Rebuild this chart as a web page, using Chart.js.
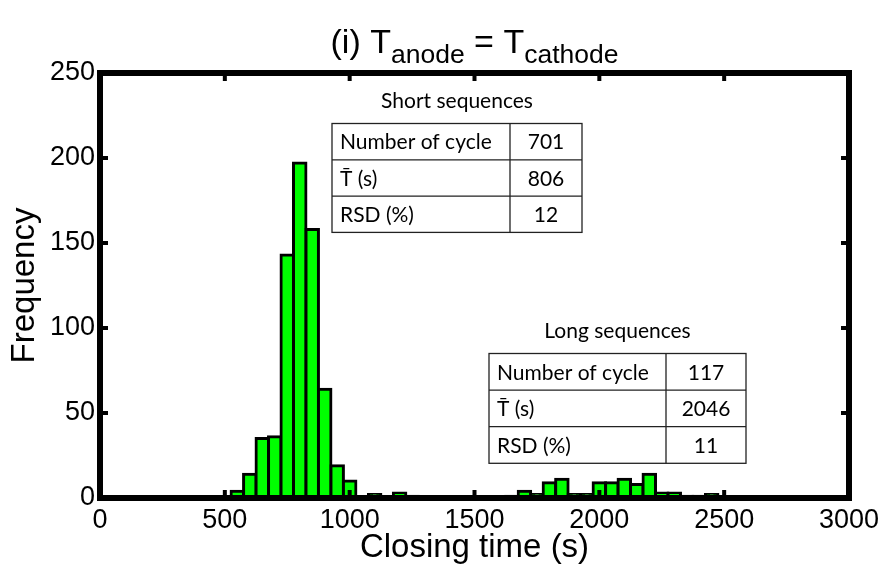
<!DOCTYPE html>
<html><head><meta charset="utf-8">
<script src="https://cdn.jsdelivr.net/npm/chart.js@4.4.0/dist/chart.umd.min.js"></script>
<style>html,body{margin:0;padding:0;background:#fff;}#wrap{width:880px;height:568px;position:relative;}</style>
</head><body><div id="wrap"><canvas id="c"></canvas></div>
<script>
// ---- data ----
const binCenters = [500,550,600,650,700,750,800,850,900,950,1000,1050,1100,1150,1200,1250,1300,1350,1400,1450,1500,1550,1600,1650,1700,1750,1800,1850,1900,1950,2000,2050,2100,2150,2200,2250,2300,2350,2400,2450,2500];
const frequencies = [0,4,14,35,36,143,197,158,64,19,10,0,2,0,3,1,0,0,0,0,0,0,0,1,4,2,9,11,2,2,9,9,11,8,14,3,3,1,1,2,0];
const xTickStep = 500;
const yTickStep = 50;
const titleParts = [["(i) T",false],["anode",true],[" = T",false],["cathode",true]];
const xAxisTitle = "Closing time (s)";
const yAxisTitle = "Frequency";
const shortTitle = "Short sequences";
const shortRows = [["Number of cycle","701"],["T\u0304 (s)","806"],["RSD (%)","12"]];
const longTitle = "Long sequences";
const longRows = [["Number of cycle","117"],["T\u0304 (s)","2046"],["RSD (%)","11"]];

const FONT = "'Liberation Sans', Arial, Helvetica, sans-serif";
const TFONT = "Lato, 'Open Sans', sans-serif";

function drawTable(ctx, title, rows, left, top, width, rowH, colX) {
  ctx.save();
  ctx.fillStyle = '#000';
  ctx.font = "21px " + TFONT;
  ctx.textAlign = 'center';
  ctx.textBaseline = 'middle';
  ctx.fillText(title, left + width/2, top - 22);
  ctx.strokeStyle = '#222';
  ctx.lineWidth = 1.3;
  const h = rowH * rows.length;
  ctx.strokeRect(left, top, width, h);
  ctx.beginPath();
  for (let i = 1; i < rows.length; i++) { ctx.moveTo(left, top + i*rowH); ctx.lineTo(left+width, top + i*rowH); }
  ctx.moveTo(left + colX, top); ctx.lineTo(left + colX, top + h);
  ctx.stroke();
  rows.forEach((r, i) => {
    const cy = top + i*rowH + rowH/2 + 1;
    ctx.textAlign = 'left';
    ctx.fillText(r[0], left + 8, cy);
    ctx.textAlign = 'center';
    ctx.fillText(r[1], left + colX + (width - colX)/2, cy);
  });
  ctx.restore();
}

const deco = {
  id: 'deco',
  afterDatasetsDraw(chart) {
    const {ctx, chartArea: a, scales: {x, y}} = chart;
    ctx.save();
    ctx.strokeStyle = '#000';
    ctx.lineJoin = 'miter';
    ctx.lineWidth = 6;
    ctx.strokeRect(a.left, a.top, a.right - a.left, a.bottom - a.top);
    ctx.lineWidth = 4;
    ctx.beginPath();
    x.ticks.forEach(t => {
      const px = x.getPixelForValue(t.value);
      ctx.moveTo(px, a.top); ctx.lineTo(px, a.top + 8);
      ctx.moveTo(px, a.bottom); ctx.lineTo(px, a.bottom - 8);
    });
    y.ticks.forEach(t => {
      const py = y.getPixelForValue(t.value);
      ctx.moveTo(a.left, py); ctx.lineTo(a.left + 8, py);
      ctx.moveTo(a.right, py); ctx.lineTo(a.right - 8, py);
    });
    ctx.stroke();
    ctx.restore();
  },
  afterDraw(chart) {
    const {ctx, chartArea: a} = chart;
    ctx.save();
    ctx.fillStyle = '#000';
    ctx.textBaseline = 'alphabetic';
    const mainF = "34px " + FONT, subF = "26.5px " + FONT;
    let total = 0;
    titleParts.forEach(p => { ctx.font = p[1] ? subF : mainF; total += ctx.measureText(p[0]).width; });
    let cx = (a.left + a.right)/2 - total/2;
    titleParts.forEach(p => {
      ctx.font = p[1] ? subF : mainF;
      ctx.textAlign = 'left';
      ctx.fillText(p[0], cx, p[1] ? 63 : 53);
      cx += ctx.measureText(p[0]).width;
    });
    ctx.restore();
    drawTable(ctx, shortTitle, shortRows, 332, 123.5, 250, 36.3, 178);
    drawTable(ctx, longTitle, longRows, 489, 353.5, 257, 36.6, 177);
  }
};

new Chart(document.getElementById('c'), {
  type: 'bar',
  data: {
    datasets: [{
      data: binCenters.map((c, i) => ({x: c, y: frequencies[i]})),
      backgroundColor: '#00ff00',
      borderColor: '#000',
      borderWidth: 3,
      borderSkipped: false,
      inflateAmount: 1.5,
      barPercentage: 1,
      categoryPercentage: 1
    }]
  },
  options: {
    responsive: true,
    maintainAspectRatio: false,
    animation: false,
    layout: {padding: {top: 73, right: 31, left: 0, bottom: 0}},
    plugins: {legend: {display: false}, tooltip: {enabled: false}, title: {display: false}},
    scales: {
      x: {
        type: 'linear', min: 0, max: 3000, offset: false,
        grid: {display: false, drawTicks: false, offset: false},
        border: {display: false},
        ticks: {stepSize: xTickStep, color: '#000', font: {family: FONT, size: 27}, padding: 6, maxRotation: 0, autoSkip: false,
                callback: v => String(v)},
        title: {display: true, text: xAxisTitle, color: '#000', font: {family: FONT, size: 33}, padding: {top: 0, bottom: 0}},
        afterFit(s) { s.height = 70; s.paddingLeft = 0; s.paddingRight = 0; }
      },
      y: {
        min: 0, max: 250,
        grid: {display: false, drawTicks: false},
        border: {display: false},
        ticks: {stepSize: yTickStep, color: '#000', font: {family: FONT, size: 27}, padding: 5, callback: v => String(v)},
        title: {display: true, text: yAxisTitle, color: '#000', font: {family: FONT, size: 33}, padding: {top: 5, bottom: 0}},
        afterFit(s) { s.width = 100; s.paddingTop = 0; s.paddingBottom = 0; }
      }
    }
  },
  plugins: [deco]
});
</script></body></html>
